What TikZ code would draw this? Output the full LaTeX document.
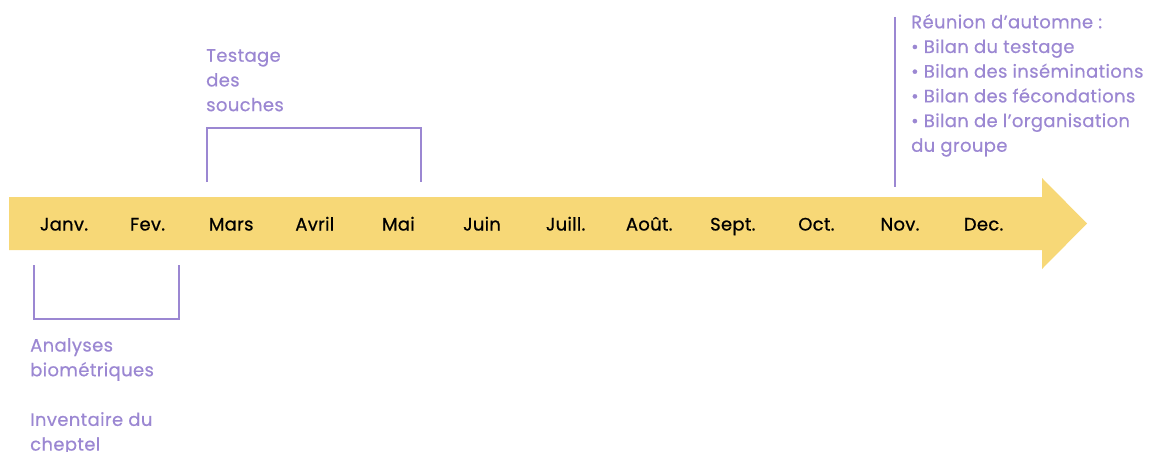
\documentclass[tikz,border=0pt]{standalone}
\usepackage{fontspec}
\setmainfont{Poppins}
\newfontfamily\medfont{Poppins}[FakeBold=0.5,LetterSpace=2]
\newfontfamily\monthfont{Poppins}[FakeBold=0.7,LetterSpace=1.5]
\definecolor{barY}{RGB}{247,216,119}
\definecolor{lav}{RGB}{155,135,210}
\begin{document}
\begin{tikzpicture}[x=1pt,y=-1pt,
  month/.style={font=\monthfont\fontsize{18}{20}\selectfont, text=black, inner sep=0pt, anchor=base},
  note/.style={font=\medfont\fontsize{18}{24.7}\selectfont, text=lav, inner sep=0pt, anchor=north west, align=left},
  brk/.style={draw=lav, line width=1.3pt}]
\useasboundingbox (0,0) rectangle (1153,452);
\fill[barY] (9,197) -- (1042,197) -- (1042,178) -- (1087,223.5) -- (1042,269) -- (1042,250) -- (9,250) -- cycle;
\foreach \m [count=\i] in {Janv.,Fev.,Mars,Avril,Mai,Juin,Juill.,Août.,Sept.,Oct.,Nov.,Dec.}
  \node[month] (m\i) at ({64+(\i-1)*83.6},230.5) {\m};
% top bracket
\coordinate (ta) at (207,182);
\coordinate (tb) at (421,182);
\draw[brk] (ta) -- (207,128) -- (421,128) -- (tb);
\node[note] (test) at (206,49) {Testage\\des\\souches};
% bottom bracket
\coordinate (ba) at (34,265);
\coordinate (bb) at (179,265);
\draw[brk] (ba) -- (34,319) -- (179,319) -- (bb);
\node[note] (ana) at (30,338) {Analyses\\biométriques};
\node[note] (inv) at (30,412) {Inventaire du\\cheptel};
% november line
\coordinate (na) at (895,17);
\coordinate (nb) at (895,187);
\draw[brk] (na) -- (nb);
\node[note] (reu) at (911,14) {Réunion d’automne :\\• Bilan du testage\\• Bilan des inséminations\\• Bilan des fécondations\\• Bilan de l’organisation\\du groupe};
\end{tikzpicture}
\end{document}
